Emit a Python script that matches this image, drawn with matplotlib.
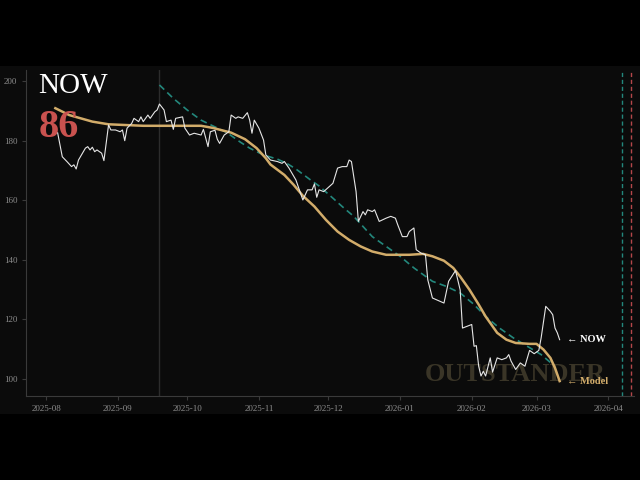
import matplotlib
matplotlib.use("Agg")
import matplotlib.pyplot as plt
import matplotlib.dates as mdates
from matplotlib.patches import Rectangle
import pandas as pd

plt.rcParams['font.family'] = ['Liberation Serif', 'DejaVu Serif']

# observed series (white line)
now_dates = [
    "2025-08-06", "2025-08-07", "2025-08-08", "2025-08-10", "2025-08-12", "2025-08-13",
    "2025-08-14", "2025-08-15", "2025-08-18", "2025-08-19", "2025-08-20", "2025-08-21",
    "2025-08-22", "2025-08-23", "2025-08-25", "2025-08-26", "2025-08-28", "2025-08-29",
    "2025-08-31", "2025-09-02", "2025-09-03", "2025-09-04", "2025-09-05", "2025-09-07",
    "2025-09-08", "2025-09-10", "2025-09-11", "2025-09-12", "2025-09-14", "2025-09-15",
    "2025-09-17", "2025-09-18", "2025-09-19", "2025-09-21", "2025-09-22", "2025-09-24",
    "2025-09-25", "2025-09-26", "2025-09-29", "2025-09-30", "2025-10-02", "2025-10-04",
    "2025-10-07", "2025-10-08", "2025-10-10", "2025-10-11", "2025-10-13", "2025-10-14",
    "2025-10-15", "2025-10-17", "2025-10-19", "2025-10-20", "2025-10-22", "2025-10-23",
    "2025-10-25", "2025-10-27", "2025-10-28", "2025-10-29", "2025-10-30", "2025-11-01",
    "2025-11-03", "2025-11-04", "2025-11-06", "2025-11-09", "2025-11-11", "2025-11-12",
    "2025-11-14", "2025-11-17", "2025-11-18", "2025-11-19", "2025-11-20", "2025-11-22",
    "2025-11-24", "2025-11-25", "2025-11-26", "2025-11-27", "2025-11-29", "2025-12-03",
    "2025-12-05", "2025-12-07", "2025-12-09", "2025-12-10", "2025-12-11", "2025-12-13",
    "2025-12-14", "2025-12-16", "2025-12-17", "2025-12-18", "2025-12-20", "2025-12-21",
    "2025-12-23", "2025-12-26", "2025-12-28", "2025-12-30", "2025-12-31", "2026-01-02",
    "2026-01-04", "2026-01-05", "2026-01-07", "2026-01-08", "2026-01-10", "2026-01-12",
    "2026-01-13", "2026-01-15", "2026-01-20", "2026-01-22", "2026-01-25", "2026-01-27",
    "2026-01-28", "2026-02-01", "2026-02-02", "2026-02-03", "2026-02-04", "2026-02-05",
    "2026-02-06", "2026-02-07", "2026-02-09", "2026-02-10", "2026-02-12", "2026-02-14",
    "2026-02-16", "2026-02-17", "2026-02-18", "2026-02-20", "2026-02-22", "2026-02-24",
    "2026-02-26", "2026-02-28", "2026-03-02", "2026-03-03", "2026-03-05", "2026-03-07",
    "2026-03-08", "2026-03-09", "2026-03-10", "2026-03-11",
]
now_values = [
    182.6, 178.6, 174.6, 173.0, 171.3, 171.9,
    170.5, 173.5, 177.5, 178.0, 176.9, 177.8,
    176.3, 176.9, 175.8, 173.3, 185.3, 183.6,
    183.6, 183.0, 183.6, 180.0, 184.2, 185.8,
    187.5, 186.4, 188.0, 186.4, 188.6, 187.5,
    189.7, 190.3, 192.3, 190.3, 186.4, 186.9,
    183.8, 187.5, 188.0, 184.2, 181.9, 182.5,
    181.9, 183.8, 178.0, 183.0, 183.5, 180.5,
    179.1, 181.9, 183.0, 188.6, 187.5, 188.0,
    187.5, 189.4, 186.9, 182.5, 186.9, 184.2,
    180.2, 175.2, 173.5, 173.0, 172.4, 173.0,
    170.8, 166.8, 164.6, 162.4, 160.1, 163.5,
    163.5, 165.5, 161.0, 163.5, 162.9, 165.7,
    170.8, 171.3, 171.3, 173.5, 173.0, 162.9,
    152.9, 156.2, 155.1, 156.8, 156.2, 156.8,
    152.9, 154.0, 154.6, 154.0, 151.8, 147.8,
    147.8, 149.5, 150.7, 143.4, 142.3, 141.7,
    133.3, 127.2, 125.5, 132.8, 136.4, 129.9,
    117.1, 118.3, 111.0, 111.2, 104.3, 101.0,
    102.6, 101.0, 107.1, 102.3, 107.1, 106.5,
    107.1, 108.2, 106.0, 103.2, 105.4, 104.3,
    109.6, 108.5, 109.6, 113.8, 124.4, 122.7,
    121.6, 117.1, 115.5, 113.2,
]

# model series (gold line)
model_dates = [
    "2025-08-05", "2025-08-11", "2025-08-21", "2025-08-28", "2025-09-12", "2025-09-25",
    "2025-10-07", "2025-10-12", "2025-10-20", "2025-10-26", "2025-10-31", "2025-11-04",
    "2025-11-06", "2025-11-12", "2025-11-16", "2025-11-20", "2025-11-25", "2025-11-30",
    "2025-12-05", "2025-12-10", "2025-12-15", "2025-12-20", "2025-12-26", "2026-01-05",
    "2026-01-11", "2026-01-15", "2026-01-20", "2026-01-24", "2026-01-27", "2026-01-31",
    "2026-02-04", "2026-02-07", "2026-02-12", "2026-02-16", "2026-02-20", "2026-02-26",
    "2026-03-01", "2026-03-04", "2026-03-07", "2026-03-09", "2026-03-11",
]
model_values = [
    190.9, 188.6, 186.4, 185.5, 185.0, 185.0,
    185.0, 184.3, 182.7, 180.5, 177.5, 174.1,
    172.0, 168.5, 165.2, 161.5, 157.9, 153.4,
    149.5, 146.7, 144.5, 142.8, 141.7, 141.7,
    142.0, 141.2, 139.7, 137.3, 134.4, 130.0,
    125.0, 121.0, 115.5, 113.2, 112.1, 111.8,
    111.8, 109.9, 107.1, 103.7, 99.3,
]

# trend series (teal dashed)
trend_dates = [
    "2025-09-19", "2025-09-25", "2025-10-01", "2025-10-07", "2025-10-12", "2025-10-18",
    "2025-10-24", "2025-10-28", "2025-11-03", "2025-11-09", "2025-11-13", "2025-11-17",
    "2025-11-23", "2025-11-27", "2025-12-03", "2025-12-07", "2025-12-12", "2025-12-16",
    "2025-12-20", "2025-12-26", "2026-01-01", "2026-01-07", "2026-01-10", "2026-01-15",
    "2026-01-21", "2026-01-27", "2026-02-02", "2026-02-07", "2026-02-13", "2026-02-19",
    "2026-02-25", "2026-03-03", "2026-03-08",
]
trend_values = [
    198.7, 194.2, 190.3, 186.9, 185.0, 182.8,
    179.5, 177.5, 175.2, 173.8, 172.4, 170.5,
    167.0, 164.8, 160.7, 157.9, 154.6, 151.2,
    147.8, 144.5, 141.2, 137.3, 135.6, 132.8,
    131.1, 128.9, 125.0, 121.0, 117.1, 113.8,
    111.0, 108.2, 104.9,
]

split_date = "2025-09-19"
target_dates = ["2026-04-07", "2026-04-11"]
current_label = "86"

bg = "#0b0b0b"
gold = "#d2ac6a"
teal = "#23877c"

nd = pd.to_datetime(now_dates)
md = pd.to_datetime(model_dates)
td = pd.to_datetime(trend_dates)

fig = plt.figure(figsize=(6.4, 4.8), dpi=100, facecolor="black")
# letterboxed panel behind the axes
fig.patches.append(Rectangle((0, 66 / 480), 1, 348 / 480, transform=fig.transFigure,
                             facecolor=bg, edgecolor="none", zorder=-10))
ax = fig.add_axes([0.041, 0.175, 0.950, 0.679])
ax.set_zorder(1)
ax.set_facecolor(bg)

ax.axvline(pd.Timestamp(split_date), color="#2c2c2c", lw=1.0, zorder=1)
ax.axvline(pd.Timestamp(target_dates[0]), color=teal, lw=1.0, ls=(0, (3, 2)), zorder=1)
ax.axvline(pd.Timestamp(target_dates[1]), color="#b5474a", lw=1.0, ls=(0, (3, 2)), zorder=1)

ax.plot(td, trend_values, color=teal, lw=1.2, ls=(0, (4, 2.5)), zorder=2)
ax.plot(md, model_values, color=gold, lw=1.8, zorder=3)
ax.plot(nd, now_values, color="#e6e6e6", lw=0.8, zorder=4)

ax.text(0.805, 0.065, "OUTSTANDER", transform=ax.transAxes, ha="center", va="center",
        fontsize=19, fontweight="bold", color="#3a3527", zorder=2.5)

ax.text(nd[-1] + pd.Timedelta(days=3), now_values[-1], "\u2190 NOW", color="white",
        fontsize=7.5, fontweight="bold", va="center", ha="left")
ax.text(md[-1] + pd.Timedelta(days=3), model_values[-1], "\u2190 Model", color=gold,
        fontsize=7.5, fontweight="bold", va="center", ha="left")

ax.text(0.02, 0.99, "NOW", transform=ax.transAxes, color="white", fontsize=21,
        va="top", ha="left")
ax.text(0.02, 0.88, current_label, transform=ax.transAxes, color="#c9524f",
        fontsize=29, fontweight="bold", va="top", ha="left")

ax.set_xlim(pd.Timestamp("2025-07-23 10:00"), pd.Timestamp("2026-04-12 06:00"))
ax.set_ylim(94.3, 203.7)
ax.set_yticks([100, 120, 140, 160, 180, 200])
ax.xaxis.set_major_locator(mdates.MonthLocator())
ax.xaxis.set_major_formatter(mdates.DateFormatter("%Y-%m"))

for s in ["top", "right"]:
    ax.spines[s].set_visible(False)
for s in ["left", "bottom"]:
    ax.spines[s].set_color("#3a3a3a")
    ax.spines[s].set_linewidth(0.8)
ax.tick_params(colors="#3a3a3a", labelcolor="#8c8c8c", labelsize=6.5, length=3, width=0.8)

fig.savefig("out.png", dpi=100, facecolor="black")
